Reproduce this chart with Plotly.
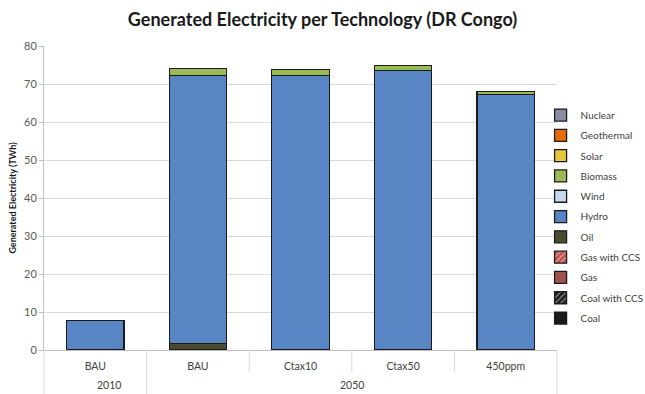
import plotly.graph_objects as go

years = ["2010", "2050", "2050", "2050", "2050"]
scenarios = ["BAU", "BAU", "Ctax10", "Ctax50", "450ppm"]

technologies = ["Coal", "Coal with CCS", "Gas", "Gas with CCS", "Oil", "Hydro",
                "Wind", "Biomass", "Solar", "Geothermal", "Nuclear"]

coal = [0, 0, 0, 0, 0]
coal_ccs = [0, 0, 0, 0, 0]
gas = [0, 0, 0, 0, 0]
gas_ccs = [0, 0, 0, 0, 0]
oil = [0, 1.8, 0, 0, 0]
hydro = [7.8, 70.4, 72.3, 73.6, 67.3]
wind = [0, 0, 0, 0, 0]
biomass = [0, 1.8, 1.5, 1.2, 0.8]
solar = [0, 0, 0, 0, 0]
geothermal = [0, 0, 0, 0, 0]
nuclear = [0, 0, 0, 0, 0]

series = [coal, coal_ccs, gas, gas_ccs, oil, hydro, wind, biomass, solar, geothermal, nuclear]
colors = ["#1a1a1a", "#1a1a1a", "#A0524F", "#C0504D", "#4B4B30", "#5886C4",
          "#C6D9F1", "#9BBB59", "#E8C53A", "#E46C0A", "#8B8BA3"]
patterns = ["", "/", "", "/", "", "", "", "", "", "", ""]

cat_ids = [f"{y} {s}" for y, s in zip(years, scenarios)]
n = len(cat_ids)

fig = go.Figure()
for k, (name, vals, col, pat) in enumerate(zip(technologies, series, colors, patterns)):
    marker = dict(color=col, line=dict(color="#1a1a1a", width=1.3))
    if pat:
        marker["pattern"] = dict(shape=pat, fgcolor="white", bgcolor=col, size=5, solidity=0.3)
    fig.add_trace(go.Bar(x=cat_ids, y=vals, name=name, marker=marker,
                         legendgroup=name, legendrank=1000 - k))

# category boundary lines below the axis
line_style = dict(color="#D9D9D9", width=1)
group_bounds = [0]
for i in range(1, n):
    if years[i] != years[i - 1]:
        group_bounds.append(i)
group_bounds.append(n)
for i in range(n + 1):
    full = i in group_bounds
    fig.add_shape(type="line", xref="paper", yref="paper",
                  x0=i / n, x1=i / n, y0=0, y1=-0.145 if full else -0.072,
                  line=line_style)
for g in range(len(group_bounds) - 1):
    a, b = group_bounds[g], group_bounds[g + 1]
    fig.add_annotation(text=years[a], xref="paper", yref="paper",
                       x=(a + b) / 2 / n, y=-0.115, yanchor="middle",
                       showarrow=False, font=dict(size=10.5, color="#404040"))

fig.update_layout(
    barmode="stack",
    bargap=0.44,
    width=645, height=394,
    margin=dict(l=44, r=88, t=46, b=44, autoexpand=False),
    plot_bgcolor="white", paper_bgcolor="white",
    font=dict(family="Lato, Open Sans, sans-serif", color="#595959", size=11),
    title=dict(text="<b>Generated Electricity per Technology (DR Congo)</b>",
               x=0.5, xanchor="center", y=0.95, yanchor="middle",
               font=dict(size=18, color="#1a1a1a", family="Lato, Open Sans, sans-serif")),
    legend=dict(traceorder="grouped", x=0.968, xanchor="left", y=0.439, yanchor="middle",
                font=dict(size=10, color="#404040"), bgcolor="rgba(0,0,0,0)",
                itemwidth=30, tracegroupgap=1.3),
    yaxis=dict(range=[0, 80], dtick=10, showgrid=True, gridcolor="#D9D9D9", gridwidth=1,
               showline=True, linecolor="#BFBFBF", ticks="outside", ticklen=4,
               tickcolor="#BFBFBF", zeroline=False,
               title=dict(text="<b>Generated Electricity (TWh)</b>",
                          font=dict(size=9, color="#1a1a1a"), standoff=5),
               tickfont=dict(size=11, color="#595959")),
    xaxis=dict(type="category", showline=True, linecolor="#BFBFBF",
               tickmode="array", tickvals=cat_ids, ticktext=scenarios,
               ticks="", ticklabelstandoff=6,
               tickfont=dict(size=10.5, color="#404040")),
)

fig.write_html("out.html")
